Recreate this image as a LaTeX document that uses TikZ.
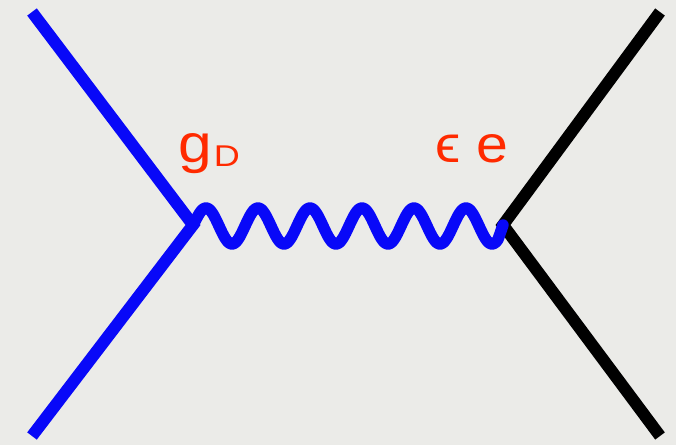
\documentclass[tikz,border=0pt]{standalone}
\usepackage{fontspec}
\setmainfont{Liberation Sans}
\definecolor{bg}{HTML}{EBEBE8}
\definecolor{fblue}{HTML}{0808F8}
\definecolor{lred}{HTML}{FF2A00}
\tikzset{
  fermion/.style={line width=12pt, line cap=butt, line join=miter},
  photon/.style={line width=11.5pt, line cap=round, line join=round, fblue},
  coupling/.style={text=lred, inner sep=0pt, anchor=base west}
}
\begin{document}
\begin{tikzpicture}[x=1pt,y=-1pt]
\fill[bg] (0,0) rectangle (676,445);
\useasboundingbox (0,0) rectangle (676,445);
\coordinate (v1) at (193,225);
\coordinate (v2) at (503,225);
\coordinate (a) at (32,12);
\coordinate (b) at (32,436);
\coordinate (c) at (660,12);
\coordinate (d) at (660,436);
\draw[fermion, fblue] (a) -- (v1) -- (b);
\draw[fermion, black] (c) -- (v2) -- (d);
\draw[photon] (v1) -- plot[domain=197:498, samples=240] (\x, {226-18*sin(90+(\x-206)/52*360)}) -- (v2);
\node[coupling, font=\fontsize{54}{54}\selectfont] (gD) at (178,162) {\scalebox{1.12}[1]{g}\hspace{2pt}\raisebox{-4pt}{\fontsize{30}{30}\selectfont\scalebox{1.2}[1]{D}}};
\node[coupling, font=\fontsize{52}{52}\selectfont] (ee) at (435,162) {\scalebox{1.1}[1]{ϵ e}};
\end{tikzpicture}
\end{document}
